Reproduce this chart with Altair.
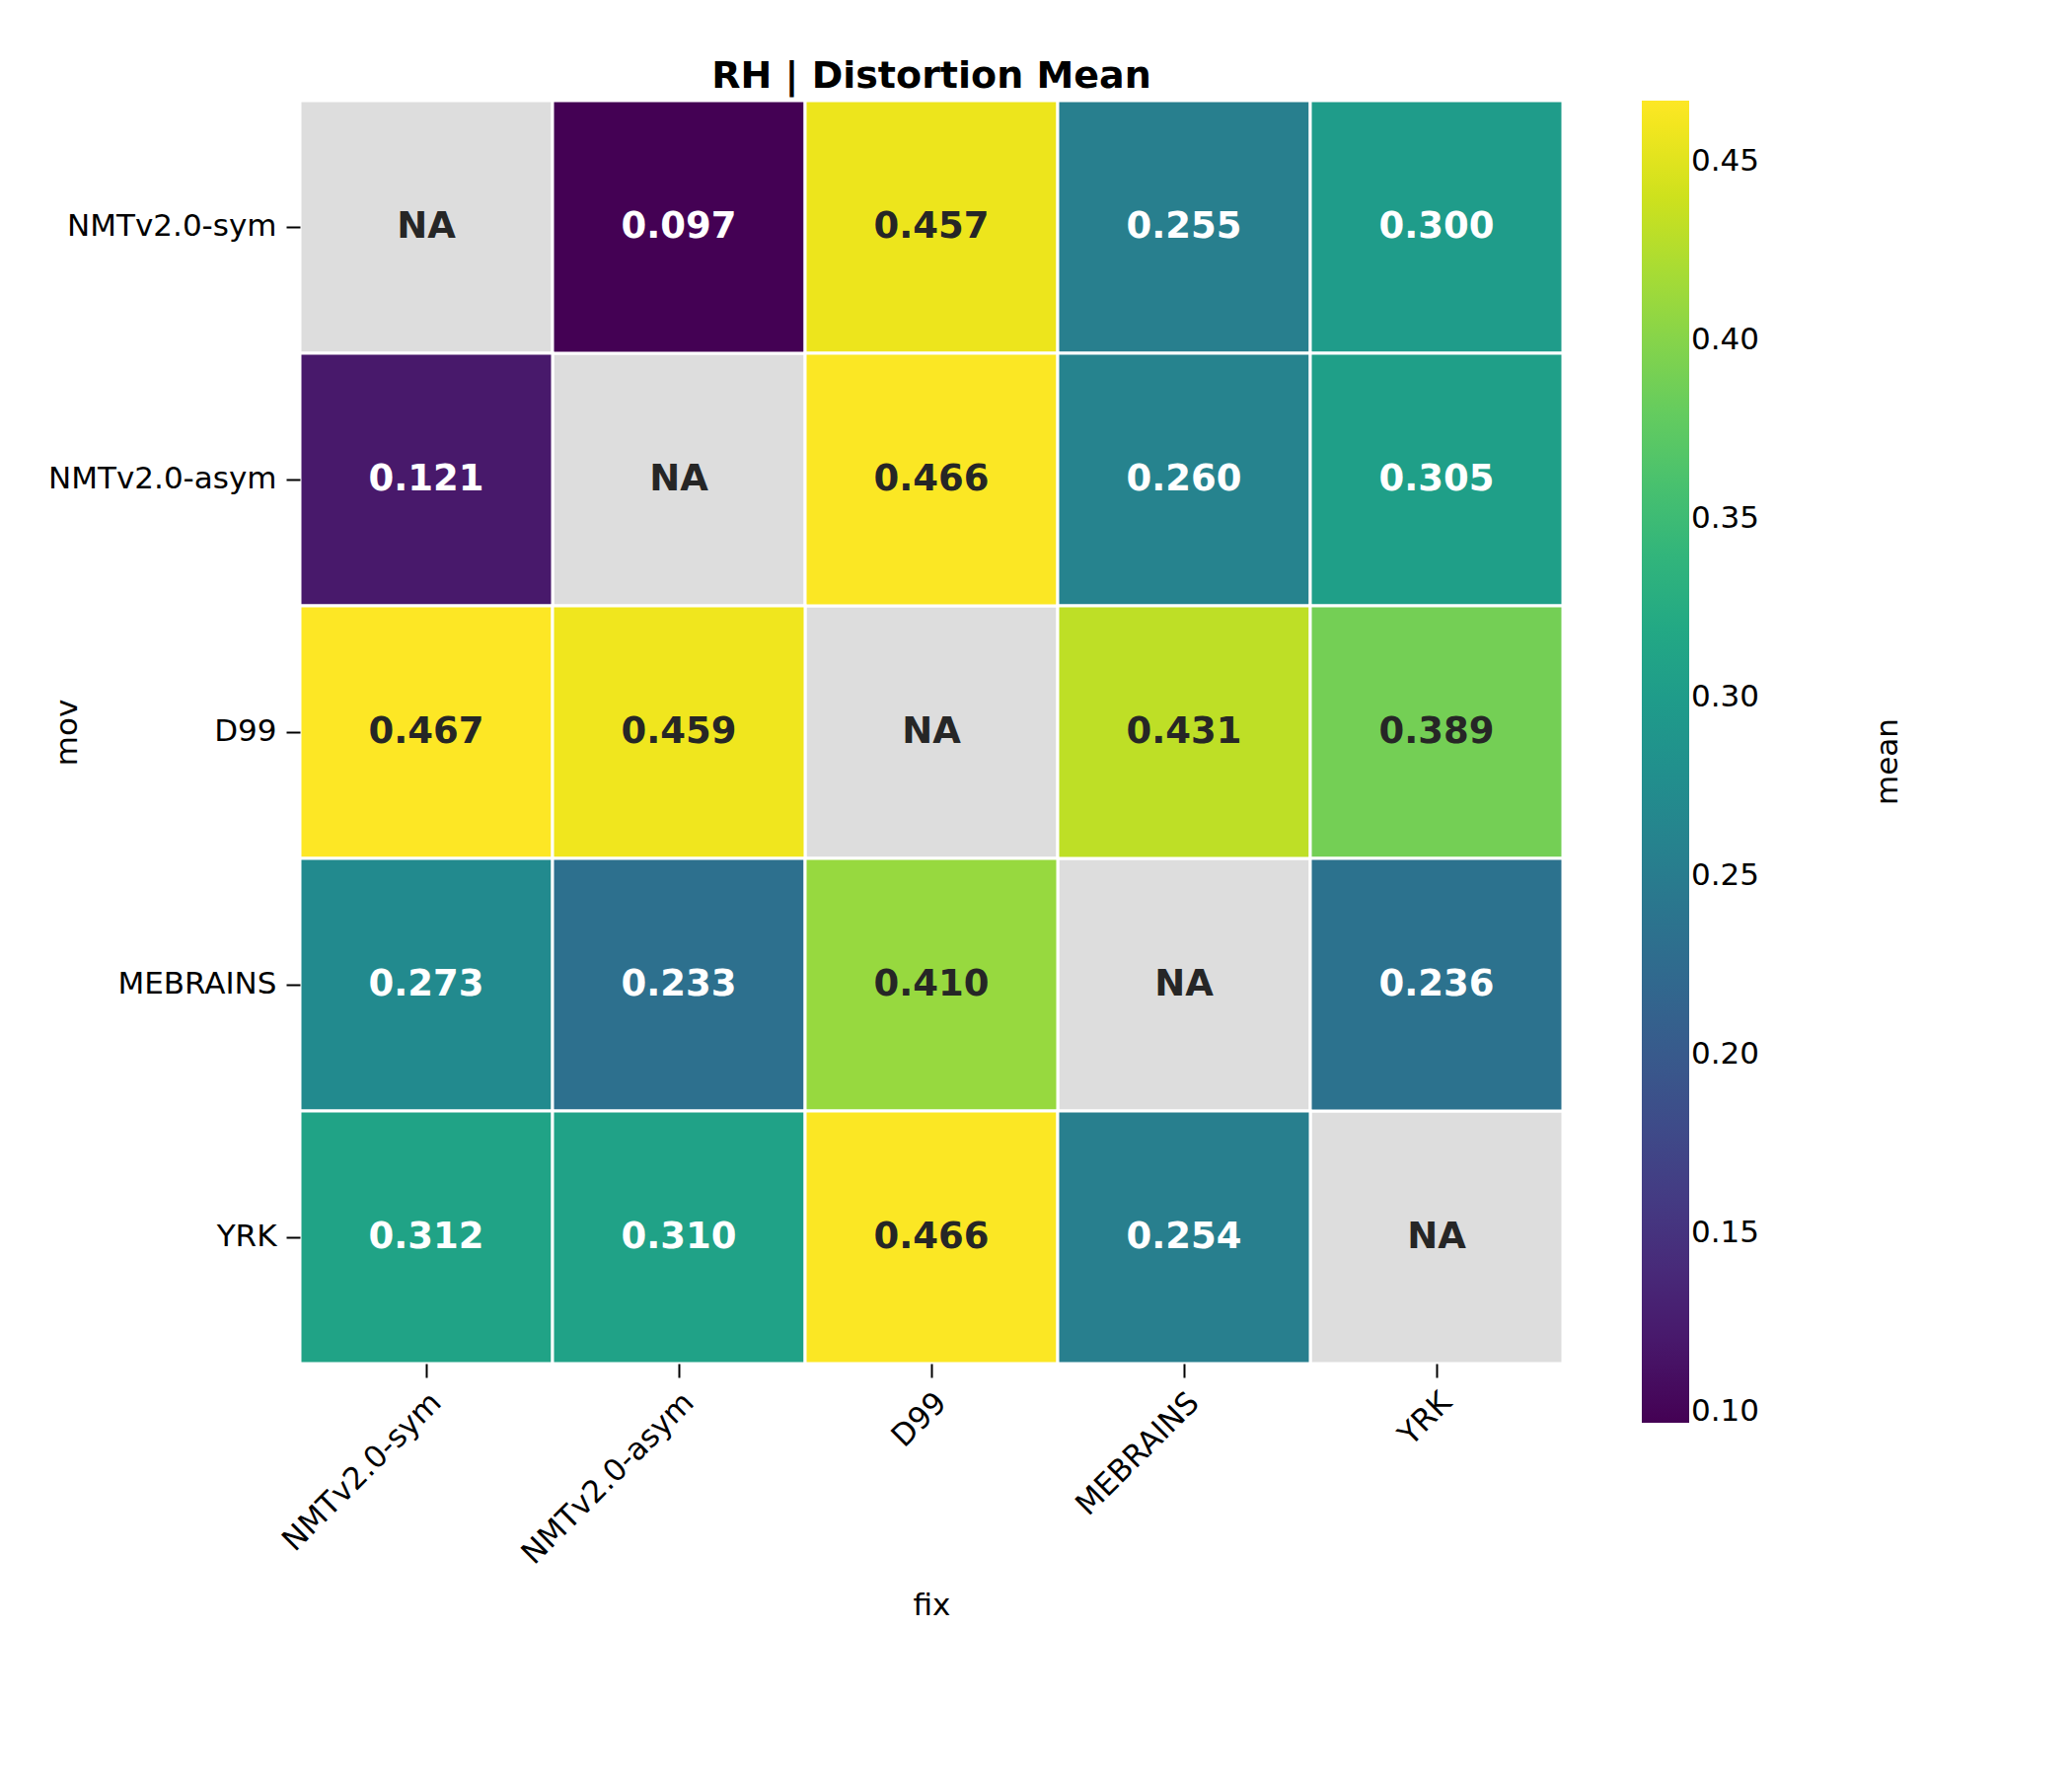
import pandas as pd
import altair as alt

models = ["NMTv2.0-sym", "NMTv2.0-asym", "D99", "MEBRAINS", "YRK"]
# rows = mov, columns = fix; None = NA (diagonal)
values = [
    [None, 0.097, 0.457, 0.255, 0.300],
    [0.121, None, 0.466, 0.260, 0.305],
    [0.467, 0.459, None, 0.431, 0.389],
    [0.273, 0.233, 0.410, None, 0.236],
    [0.312, 0.310, 0.466, 0.254, None],
]

rows = []
for i, mov in enumerate(models):
    for j, fix in enumerate(models):
        v = values[i][j]
        rows.append({
            "mov": mov, "fix": fix, "mean": v,
            "label": "NA" if v is None else f"{v:.3f}",
            "dark": v is None or v > 0.37,
        })
df = pd.DataFrame(rows)

x = alt.X("fix:N", sort=models, title="fix",
          axis=alt.Axis(labelAngle=-45, labelAlign="right", labelBaseline="top",
                        labelFontSize=31, titleFontSize=31, titleFontWeight="normal",
                        titlePadding=30, labelLimit=0,
                        tickSize=14, tickWidth=2, tickColor="black", domain=False,
                        labelPadding=10))
y = alt.Y("mov:N", sort=models, title="mov",
          axis=alt.Axis(labelFontSize=31, titleFontSize=31, titleFontWeight="normal",
                        titlePadding=20, labelLimit=0, labelPadding=10,
                        tickSize=14, tickWidth=2, tickColor="black", domain=False))

base = alt.Chart(df)

na = base.transform_filter("datum.mean == null").mark_rect(
    color="#dddddd", stroke="white", strokeWidth=3).encode(x=x, y=y)

cells = base.transform_filter("datum.mean != null").mark_rect(
    stroke="white", strokeWidth=3).encode(
    x=x, y=y,
    color=alt.Color("mean:Q",
                    scale=alt.Scale(scheme="viridis", domain=[0.097, 0.467]),
                    legend=alt.Legend(title=None, gradientLength=1340,
                                      gradientThickness=48, labelFontSize=31,
                                      offset=80, values=[0.10, 0.15, 0.20, 0.25, 0.30, 0.35, 0.40, 0.45],
                                      format=".2f")))

text = base.mark_text(fontSize=37, fontWeight="bold").encode(
    x=x, y=y, text="label:N",
    color=alt.condition("datum.dark", alt.value("#262626"), alt.value("white")))

mean_title = alt.Chart(pd.DataFrame({"t": ["mean"]})).mark_text(
    angle=270, fontSize=31).encode(x=alt.value(1610), y=alt.value(670), text="t:N")

chart = alt.layer(na, cells, text, mean_title).properties(
    width=1280, height=1280,
    title=alt.TitleParams("RH | Distortion Mean", fontSize=38, fontWeight="bold"),
    padding={"left": 40, "top": 50, "right": 60, "bottom": 30},
).configure(font="DejaVu Sans").configure_view(stroke=None)

chart.save("out.html", embed_options={"renderer": "svg", "actions": False})
